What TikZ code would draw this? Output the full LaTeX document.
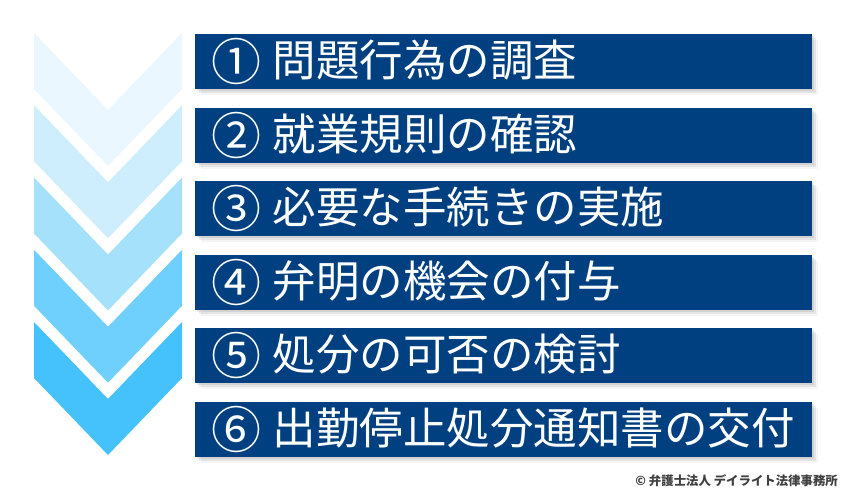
\documentclass[tikz,border=0pt]{standalone}
\usepackage{fontspec}
\newfontfamily\jpfont{Noto Sans CJK JP}
\usepackage{tikz}
\usetikzlibrary{shadows}
\usetikzlibrary{positioning}
\definecolor{barnavy}{RGB}{0,64,128}
\definecolor{chevA}{RGB}{234,247,254}
\definecolor{chevB}{RGB}{206,238,253}
\definecolor{chevC}{RGB}{166,225,252}
\definecolor{chevD}{RGB}{111,208,253}
\definecolor{chevE}{RGB}{69,193,252}
\definecolor{creditgrey}{RGB}{64,64,64}
\newcommand{\numcirc}[1]{\raisebox{-4pt}{\fontsize{50}{44}\selectfont #1}\hspace{-3pt}}
\tikzstyle{bar} = [rectangle, fill=barnavy, minimum height=55pt, text width=585pt, inner xsep=16pt, inner ysep=0pt, align=left, text=white, font=\jpfont\fontsize{43.5}{44}\selectfont,
	drop shadow={shadow xshift=2pt, shadow yshift=-2pt, opacity=0.18},
	drop shadow={shadow xshift=4pt, shadow yshift=-4pt, opacity=0.14},
	drop shadow={shadow xshift=6pt, shadow yshift=-6pt, opacity=0.08}]
\tikzstyle{credit} = [anchor=east, inner sep=0pt, text=creditgrey, font=\jpfont\bfseries\fontsize{12.4}{14}\selectfont]

\begin{document}
\begin{tikzpicture}[x=1pt, y=-1pt, node distance=73.6pt]
	\useasboundingbox[fill=white] (0,0) rectangle (850,500);
	%chevrons
	\foreach \c [count=\i from 0] in {chevA,chevB,chevC,chevD,chevE} {
		\pgfmathsetmacro{\t}{33+72.25*\i}
		\fill[\c] (34,\t) -- (108,\t+77) -- (182,\t) -- (182,\t+56) -- (108,\t+133) -- (34,\t+56) -- cycle;
	}
	%bars
	\node (n1) [bar] at (503.5,61.5) {\numcirc{①} 問題行為の調査};
	\node (n2) [bar, below of=n1] {\numcirc{②} 就業規則の確認};
	\node (n3) [bar, below of=n2] {\numcirc{③} 必要な手続きの実施};
	\node (n4) [bar, below of=n3] {\numcirc{④} 弁明の機会の付与};
	\node (n5) [bar, below of=n4] {\numcirc{⑤} 処分の可否の検討};
	\node (n6) [bar, below of=n5] {\numcirc{⑥} 出勤停止処分通知書の交付};
	\node (copy) [credit] at (838,481) {© 弁護士法人 デイライト法律事務所};
\end{tikzpicture}
\end{document}
